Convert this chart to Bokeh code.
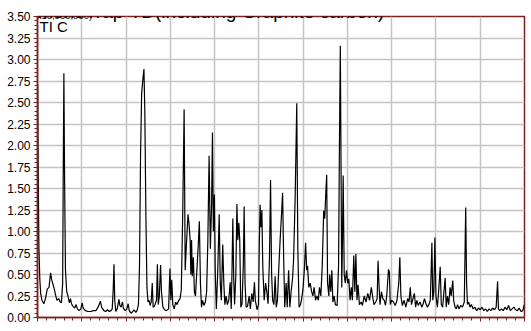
from bokeh.plotting import figure
from bokeh.models import Label, FixedTicker, Range1d
from bokeh.embed import file_html
from bokeh.resources import INLINE

title_text = "fig1.MonoTrap-TD(including Graphite carbon)"
scale_text = "(x10,000,000)"
trace_name = "TI C"

rt = [2.51, 2.53, 2.58, 2.63, 2.68, 2.75, 2.86, 2.95, 3.05, 3.15, 3.24, 3.30, 3.37, 3.45, 3.52, 3.60, 3.70, 3.78, 3.85, 3.92,
      3.96, 3.99, 4.03, 4.08, 4.15, 4.22, 4.30, 4.36, 4.42, 4.50, 4.60, 4.68, 4.75, 4.85, 4.95, 5.02, 5.08, 5.20, 5.35, 5.50,
      5.65, 5.80, 5.92, 6.00, 6.05, 6.12, 6.25, 6.35, 6.45, 6.55, 6.65, 6.72, 6.77, 6.82, 6.86, 6.92, 7.00, 7.10, 7.15, 7.22,
      7.30, 7.35, 7.45, 7.55, 7.62, 7.68, 7.78, 7.88, 7.95, 8.05, 8.12, 8.20, 8.26, 8.32, 8.38, 8.44, 8.51, 8.56, 8.62, 8.68,
      8.74, 8.80, 8.86, 8.92, 8.98, 9.03, 9.10, 9.15, 9.22, 9.27, 9.32, 9.38, 9.45, 9.50, 9.58, 9.68, 9.78, 9.90, 9.98, 10.03,
      10.08, 10.14, 10.22, 10.30, 10.38, 10.48, 10.55, 10.62, 10.70, 10.78, 10.84, 10.92, 11.00, 11.06, 11.12, 11.16, 11.20, 11.24, 11.30, 11.36,
      11.42, 11.50, 11.58, 11.64, 11.70, 11.76, 11.82, 11.90, 11.98, 12.05, 12.12, 12.19, 12.26, 12.33, 12.38, 12.43, 12.49, 12.54, 12.60, 12.68,
      12.76, 12.82, 12.88, 12.96, 13.02, 13.08, 13.15, 13.22, 13.30, 13.38, 13.44, 13.48, 13.53, 13.58, 13.63, 13.70, 13.76, 13.81, 13.87, 13.92,
      13.98, 14.05, 14.12, 14.17, 14.22, 14.28, 14.36, 14.45, 14.52, 14.60, 14.68, 14.75, 14.80, 14.90, 14.98, 15.02, 15.07, 15.12, 15.17, 15.22,
      15.30, 15.38, 15.45, 15.52, 15.60, 15.66, 15.72, 15.78, 15.85, 15.92, 15.98, 16.05, 16.12, 16.20, 16.28, 16.34, 16.40, 16.46, 16.54, 16.60,
      16.68, 16.75, 16.82, 16.90, 16.96, 17.05, 17.14, 17.20, 17.27, 17.35, 17.42, 17.50, 17.58, 17.64, 17.70, 17.75, 17.82, 17.90, 17.98, 18.05,
      18.12, 18.20, 18.28, 18.36, 18.42, 18.50, 18.58, 18.66, 18.72, 18.78, 18.83, 18.88, 18.95, 19.00, 19.06, 19.12, 19.18, 19.25, 19.32, 19.42,
      19.50, 19.55, 19.60, 19.64, 19.68, 19.72, 19.76, 19.82, 19.88, 19.95, 20.02, 20.08, 20.15, 20.22, 20.28, 20.36, 20.42, 20.48, 20.54, 20.60,
      20.68, 20.78, 20.85, 20.95, 21.05, 21.15, 21.25, 21.35, 21.42, 21.50, 21.60, 21.68, 21.73, 21.78, 21.84, 21.92, 22.00, 22.08, 22.15, 22.22,
      22.32, 22.37, 22.42, 22.50, 22.60, 22.70, 22.80, 22.90, 22.96, 23.02, 23.10, 23.20, 23.30, 23.40, 23.48, 23.55, 23.62, 23.70, 23.78, 23.85,
      23.92, 24.00, 24.10, 24.20, 24.28, 24.35, 24.45, 24.52, 24.60, 24.68, 24.73, 24.77, 24.82, 24.88, 24.94, 25.00, 25.08, 25.15, 25.24, 25.30,
      25.38, 25.45, 25.52, 25.58, 25.65, 25.72, 25.80, 25.86, 25.95, 26.00, 26.08, 26.15, 26.22, 26.30, 26.40, 26.50, 26.60, 26.68, 26.73, 26.78,
      26.85, 26.92, 27.00, 27.10, 27.20, 27.30, 27.40, 27.50, 27.60, 27.70, 27.80, 27.90, 28.00, 28.10, 28.20, 28.30, 28.40, 28.48, 28.53, 28.60,
      28.70, 28.80, 28.90, 29.00, 29.10, 29.20, 29.30, 29.40, 29.50, 29.60, 29.70, 29.80, 29.90, 29.99]

tic = [2.71, 1.90, 0.81, 0.45, 0.28, 0.20, 0.16, 0.22, 0.33, 0.35, 0.52, 0.44, 0.39, 0.33, 0.26, 0.20, 0.22, 0.18, 0.17, 0.40,
       1.90, 2.84, 1.60, 0.55, 0.30, 0.25, 0.17, 0.22, 0.16, 0.13, 0.11, 0.15, 0.10, 0.08, 0.10, 0.17, 0.11, 0.08, 0.07, 0.07,
       0.08, 0.08, 0.12, 0.16, 0.19, 0.12, 0.08, 0.07, 0.09, 0.07, 0.08, 0.10, 0.30, 0.62, 0.20, 0.07, 0.10, 0.21, 0.14, 0.12,
       0.18, 0.11, 0.08, 0.10, 0.16, 0.08, 0.05, 0.07, 0.09, 0.06, 0.08, 0.15, 0.60, 1.90, 2.60, 2.75, 2.89, 2.40, 1.20, 0.35,
       0.18, 0.20, 0.14, 0.18, 0.40, 0.12, 0.13, 0.16, 0.20, 0.62, 0.15, 0.25, 0.61, 0.30, 0.12, 0.09, 0.08, 0.10, 0.57, 0.20,
       0.44, 0.15, 0.10, 0.18, 0.15, 0.20, 0.22, 0.32, 1.20, 2.42, 0.55, 0.90, 1.20, 1.08, 0.90, 0.50, 0.90, 0.48, 0.70, 0.30,
       0.25, 0.55, 0.85, 1.12, 0.40, 0.12, 0.20, 0.14, 0.18, 0.30, 0.90, 1.88, 0.80, 1.30, 2.15, 1.00, 1.43, 0.50, 0.10, 0.55,
       1.20, 0.40, 0.20, 0.85, 0.40, 0.15, 0.25, 0.15, 0.20, 0.41, 0.10, 0.50, 1.15, 0.45, 0.15, 0.50, 1.32, 0.90, 1.10, 0.90,
       0.12, 0.16, 0.60, 1.29, 0.40, 0.12, 0.13, 0.25, 0.10, 0.28, 0.18, 0.41, 0.20, 0.09, 0.15, 0.80, 1.31, 1.05, 1.25, 0.60,
       0.20, 0.40, 0.30, 0.16, 0.70, 1.60, 0.50, 0.20, 0.15, 0.48, 0.12, 0.20, 0.55, 0.90, 1.20, 1.45, 0.70, 0.12, 0.40, 0.12,
       0.55, 0.12, 0.30, 0.45, 0.67, 1.40, 2.49, 0.80, 0.12, 0.15, 0.22, 0.35, 0.60, 0.87, 0.55, 0.60, 0.35, 0.40, 0.30, 0.25,
       0.35, 0.20, 0.25, 0.20, 0.35, 0.25, 0.60, 1.24, 1.15, 1.45, 1.66, 0.40, 0.25, 0.50, 0.30, 0.55, 0.18, 0.25, 0.15, 0.14,
       0.60, 2.00, 3.16, 1.80, 0.35, 0.90, 1.65, 0.50, 0.40, 0.55, 0.40, 0.45, 0.20, 0.35, 0.20, 0.72, 0.30, 0.74, 0.20, 0.38,
       0.15, 0.18, 0.14, 0.25, 0.18, 0.28, 0.20, 0.35, 0.25, 0.15, 0.18, 0.22, 0.66, 0.40, 0.15, 0.30, 0.22, 0.20, 0.14, 0.25,
       0.56, 0.53, 0.15, 0.20, 0.18, 0.14, 0.20, 0.40, 0.70, 0.25, 0.14, 0.20, 0.12, 0.22, 0.18, 0.35, 0.15, 0.22, 0.28, 0.12,
       0.20, 0.14, 0.18, 0.12, 0.16, 0.22, 0.15, 0.12, 0.15, 0.20, 0.55, 0.87, 0.20, 0.30, 0.93, 0.25, 0.12, 0.30, 0.59, 0.15,
       0.12, 0.30, 0.46, 0.12, 0.25, 0.15, 0.35, 0.25, 0.43, 0.20, 0.12, 0.10, 0.15, 0.10, 0.14, 0.12, 0.18, 1.28, 0.40, 0.15,
       0.18, 0.12, 0.15, 0.10, 0.12, 0.08, 0.11, 0.09, 0.12, 0.08, 0.10, 0.07, 0.10, 0.08, 0.11, 0.09, 0.12, 0.42, 0.10, 0.08,
       0.10, 0.08, 0.12, 0.09, 0.14, 0.08, 0.10, 0.12, 0.09, 0.08, 0.11, 0.07, 0.08, 0.15]

x_ticks = [2.5, 5.0, 7.5, 10.0, 12.5, 15.0, 17.5, 20.0, 22.5, 25.0, 27.5, 30.0]
x_tick_labels = ["2.5", "5.0", "7.5", "10.0", "12.5", "15.0", "17.5", "20.0", "22.5", "25.0", "27.5", "30.0"]
y_ticks = [0.0, 0.25, 0.5, 0.75, 1.0, 1.25, 1.5, 1.75, 2.0, 2.25, 2.5, 2.75, 3.0, 3.25, 3.5]
y_tick_labels = ["0.00", "0.25", "0.50", "0.75", "1.00", "1.25", "1.50", "1.75", "2.00", "2.25", "2.50", "2.75", "3.00", "3.25", "3.50"]

FONT = "Liberation Sans"
AXC = "#7d2020"
GRID = "#c4c4c4"

p = figure(width=531, height=331, output_backend="svg", toolbar_location=None,
           x_range=Range1d(2.5, 30.0), y_range=Range1d(0.0, 3.5),
           min_border_left=37, min_border_right=7, min_border_top=16, min_border_bottom=14,
           margin=(0, 0, 0, 0))
p.background_fill_color = "white"
p.border_fill_color = "white"
p.outline_line_color = AXC
p.outline_line_width = 1.5

p.xaxis.ticker = FixedTicker(ticks=x_ticks, minor_ticks=[x_ticks[0] + 0.5 * i for i in range(56)])
p.yaxis.ticker = FixedTicker(ticks=y_ticks, minor_ticks=[0.05 * i for i in range(71)])
p.yaxis.major_label_overrides = {t: s for t, s in zip(y_ticks, y_tick_labels)}
p.xaxis.major_label_overrides = {t: "" for t in x_ticks}

for ax in (p.xaxis[0], p.yaxis[0]):
    ax.axis_line_color = AXC
    ax.axis_line_width = 1.5
    ax.major_tick_line_color = AXC
    ax.minor_tick_line_color = AXC
    ax.major_tick_in = 0
    ax.major_tick_out = 4
    ax.minor_tick_in = 0
    ax.minor_tick_out = 3
p.yaxis.major_label_text_font = FONT
p.yaxis.major_label_text_font_size = "12px"
p.yaxis.major_label_text_color = "black"
p.yaxis.major_label_standoff = 3
p.xaxis.major_label_text_font_size = "0px"
p.xaxis.major_label_standoff = 0

p.xgrid.ticker = FixedTicker(ticks=x_ticks)
p.ygrid.ticker = FixedTicker(ticks=y_ticks)
p.grid.grid_line_color = GRID
p.grid.grid_line_width = 1.5

p.line(rt, tic, line_color="black", line_width=1.2)

for t, s in zip(x_ticks, x_tick_labels):
    p.add_layout(Label(x=t, y=-6, x_units="data", y_units="screen", text=s,
                       text_align="center", text_baseline="top",
                       text_font=FONT, text_font_size="12px", text_color="black"))

p.add_layout(Label(x=2, y=300, x_units="screen", y_units="screen", text=trace_name,
                   text_align="left", text_baseline="top",
                   text_font=FONT, text_font_size="15px", text_color="black"))
p.add_layout(Label(x=-4, y=302, x_units="screen", y_units="screen", text=scale_text,
                   text_align="left", text_baseline="alphabetic",
                   text_font=FONT, text_font_size="9.5px", text_color="black"))
p.add_layout(Label(x=-36, y=306, x_units="screen", y_units="screen", text=title_text,
                   text_align="left", text_baseline="alphabetic",
                   text_font=FONT, text_font_size="19px", text_color="black"))

open("out.html", "w").write(file_html(p, INLINE))
